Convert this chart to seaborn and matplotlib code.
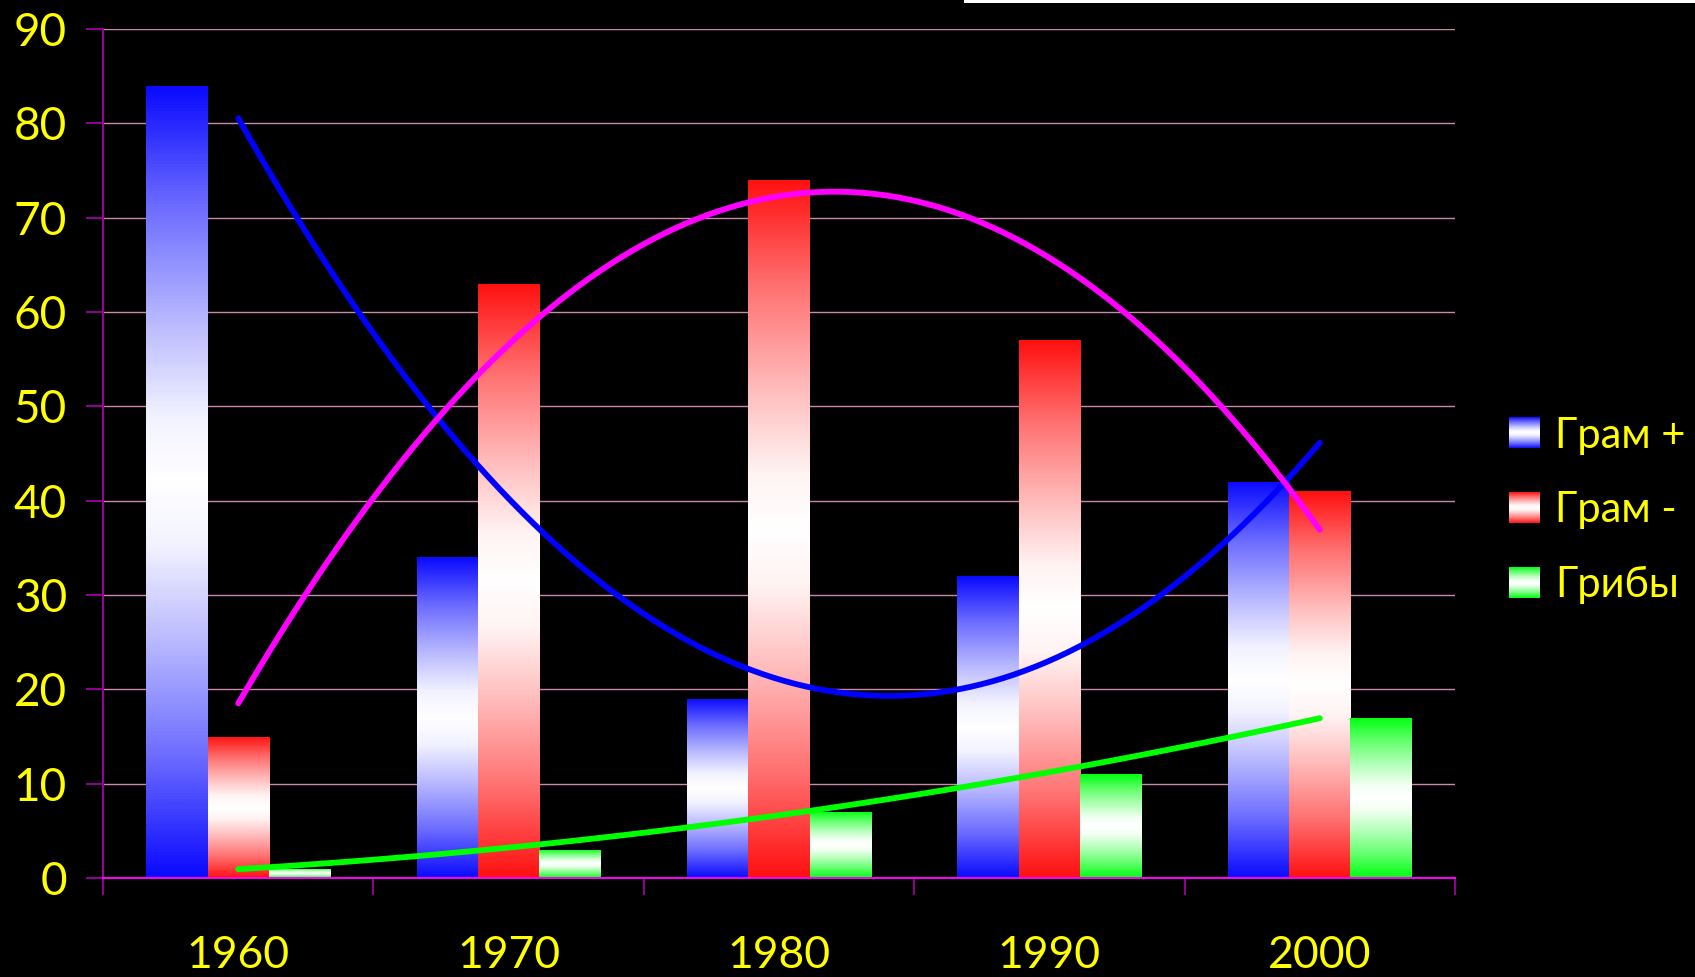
import numpy as np
import pandas as pd
import matplotlib
matplotlib.use("Agg")
import matplotlib.pyplot as plt
import seaborn as sns
from matplotlib.colors import LinearSegmentedColormap, to_rgb
from matplotlib.legend_handler import HandlerBase
from matplotlib.image import BboxImage
from matplotlib.transforms import Bbox, TransformedBbox
from matplotlib.patches import Patch, Rectangle

# ---- data -------------------------------------------------------------
years = ["1960", "1970", "1980", "1990", "2000"]
series = ["Грам +", "Грам -", "Грибы"]
gram_pos = [84, 34, 19, 32, 42]
gram_neg = [15, 63, 74, 57, 41]
fungi = [1, 3, 7, 11, 17]
y_ticks = [0, 10, 20, 30, 40, 50, 60, 70, 80, 90]

bar_colors = {"Грам +": "#0A0AFF", "Грам -": "#FF1010", "Грибы": "#00FF10"}
trend_colors = {"Грам +": "#0000FF", "Грам -": "#FF00FF", "Грибы": "#00FF00"}

df = pd.DataFrame({
    "year": years * 3,
    "series": np.repeat(series, len(years)),
    "value": gram_pos + gram_neg + fungi,
})

# ---- style ------------------------------------------------------------
sns.set_theme(style="dark")
plt.rcParams["font.family"] = ["Lato", "Open Sans", "DejaVu Sans"]
TEXT = "#FFFF00"
AXIS = "#A000A0"

fig = plt.figure(figsize=(16.95, 9.77), dpi=100, facecolor="black")
ax = fig.add_axes([0.0608, 0.1013, 0.7976, 0.869])
ax.set_facecolor("black")

# share of white mixed into the bar colour, from the bar edge (0) to its middle (0.5)
MIX_POS = [0.0, 0.15, 0.30, 0.42, 0.5]
MIX_WHITE = [0.0, 0.40, 0.72, 0.95, 1.0]


def gradient_cmap(color):
    c = np.array(to_rgb(color))
    nodes = []
    for p, w in zip(MIX_POS, MIX_WHITE):
        nodes.append((p, tuple(c * (1 - w) + w)))
    for p, w in zip(MIX_POS[::-1][1:], MIX_WHITE[::-1][1:]):
        nodes.append((1 - p, tuple(c * (1 - w) + w)))
    return LinearSegmentedColormap.from_list("", nodes)


grad = np.linspace(0, 1, 256).reshape(-1, 1)

# ---- bars -------------------------------------------------------------
sns.barplot(data=df, x="year", y="value", hue="series", hue_order=series,
            order=years, width=0.68, gap=0, palette=bar_colors, saturation=1,
            errorbar=None, legend=False, ax=ax, zorder=2)

# fill each bar with a colour-white-colour vertical gradient
for container, name in zip(ax.containers, series):
    cmap = gradient_cmap(bar_colors[name])
    for bar in container:
        x0, y0 = bar.get_x(), bar.get_y()
        w, h = bar.get_width(), bar.get_height()
        bar.set_facecolor("none")
        bar.set_edgecolor("none")
        im = ax.imshow(grad, cmap=cmap, extent=[x0, x0 + w, y0, y0 + h],
                       aspect="auto", origin="lower", interpolation="bicubic",
                       zorder=2)
        im.set_clip_path(bar)

# ---- quadratic trend lines -------------------------------------------
xpos = np.arange(len(years))
for name, vals in zip(series, [gram_pos, gram_neg, fungi]):
    sns.regplot(x=xpos, y=np.array(vals, dtype=float), order=2, ci=None,
                scatter=False, truncate=True, ax=ax,
                line_kws=dict(color=trend_colors[name], lw=4.2,
                              solid_capstyle="round", zorder=3))

# ---- axes -------------------------------------------------------------
ax.set_xlim(-0.5, len(years) - 0.5)
ax.set_ylim(0, 90)
ax.set_xlabel("")
ax.set_ylabel("")

ax.set_yticks(y_ticks)
ax.set_yticklabels([str(v) for v in y_ticks])
ax.set_xticks(np.arange(-0.5, len(years), 1.0))
ax.set_xticklabels([])
ax.set_xticks(xpos, minor=True)
ax.set_xticklabels(years, minor=True)

ax.tick_params(axis="x", which="major", length=12, width=1.3, color=AXIS,
               direction="out", bottom=True)
ax.tick_params(axis="x", which="minor", length=0, pad=41, labelsize=32,
               labelcolor=TEXT, bottom=True)
ax.tick_params(axis="y", which="major", length=12, width=1.3, color=AXIS,
               direction="out", labelsize=33, labelcolor=TEXT, pad=14, left=True)

ax.set_axisbelow(True)
ax.yaxis.grid(True, color="#CC88AA", lw=1.0)
ax.xaxis.grid(False)

for side in ("top", "right"):
    ax.spines[side].set_visible(False)
ax.spines["left"].set_color(AXIS)
ax.spines["left"].set_linewidth(1.4)
ax.spines["bottom"].set_color("#FF00FF")
ax.spines["bottom"].set_linewidth(1.4)
ax.spines["bottom"].set_zorder(4)


# ---- legend with gradient swatches -----------------------------------
class GradientHandler(HandlerBase):
    def __init__(self, color):
        super().__init__()
        self.cmap = gradient_cmap(color)

    def create_artists(self, legend, orig_handle, xdescent, ydescent,
                       width, height, fontsize, trans):
        bb = Bbox.from_bounds(-xdescent, -ydescent, width, height)
        img = BboxImage(TransformedBbox(bb, trans), cmap=self.cmap,
                        interpolation="bicubic")
        img.set_data(grad)
        return [img]


handles = [Patch(facecolor=bar_colors[s]) for s in series]
handler_map = {h: GradientHandler(bar_colors[s]) for h, s in zip(handles, series)}
fig.legend(handles, series, handler_map=handler_map, loc="center left",
           bbox_to_anchor=(0.890, 0.4776), frameon=False, fontsize=30,
           labelcolor=TEXT, handlelength=0.74, handleheight=0.74,
           handletextpad=0.38, labelspacing=0.88, borderpad=0,
           borderaxespad=0)

# thin white strip along the top edge
fig.patches.append(Rectangle((0.5687, 1 - 3 / 977), 1 - 0.5687, 3 / 977,
                             transform=fig.transFigure, facecolor="white",
                             edgecolor="none"))

fig.savefig("out.png", dpi=100, facecolor="black")
